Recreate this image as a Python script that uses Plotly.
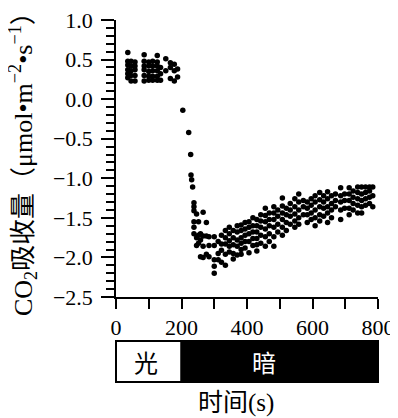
import plotly.graph_objects as go

# ---- data ----
light_times = [36, 46, 58, 86, 100, 112, 126, 136, 152, 166, 178, 188]
light_values = [
    [0.59, 0.48, 0.43, 0.37, 0.32, 0.27],
    [0.48, 0.42, 0.36, 0.30, 0.23],
    [0.47, 0.42, 0.37, 0.30, 0.23],
    [0.56, 0.48, 0.42, 0.37, 0.30, 0.23],
    [0.47, 0.42, 0.35, 0.29, 0.24],
    [0.48, 0.42, 0.36, 0.29, 0.24],
    [0.55, 0.47, 0.42, 0.36, 0.29, 0.24],
    [0.40, 0.32, 0.24],
    [0.51, 0.36],
    [0.46, 0.40, 0.26],
    [0.44, 0.36, 0.23],
    [0.38, 0.28],
]

drop_times = [204, 222, 228, 229, 231, 234]
drop_values = [-0.14, -0.42, -0.70, -0.96, -1.02, -1.11]

dark_times = [238, 246, 252, 258, 266, 276, 284, 300, 312, 322, 334, 346, 358, 370,
              382, 394, 406, 418, 430, 442, 456, 468, 482, 494, 508, 520, 532, 546,
              558, 572, 584, 596, 608, 622, 634, 646, 658, 670, 686, 698, 712, 724,
              738, 750, 762, 774, 784]
dark_values = [
    [-1.31, -1.36, -1.41, -1.55, -1.62, -1.70],
    [-1.45, -1.75, -1.85],
    [-1.55, -1.72, -1.82],
    [-1.70, -1.78, -1.99],
    [-1.43, -1.73, -1.86, -2.00],
    [-1.56, -1.73, -1.96],
    [-1.74, -1.85, -1.99],
    [-1.74, -1.85, -2.03, -2.11, -2.20],
    [-1.80, -1.95, -2.03],
    [-1.72, -1.83, -1.91, -2.06],
    [-1.66, -1.75, -1.83, -1.96, -2.10],
    [-1.62, -1.70, -1.79, -1.86, -1.93],
    [-1.66, -1.75, -1.84, -1.95, -2.02],
    [-1.60, -1.68, -1.78, -1.86, -1.97],
    [-1.59, -1.66, -1.75, -1.82, -1.90, -1.96],
    [-1.56, -1.64, -1.72, -1.80, -1.88],
    [-1.55, -1.62, -1.70, -1.80, -1.94],
    [-1.50, -1.60, -1.68, -1.76, -1.85],
    [-1.52, -1.60, -1.68, -1.76, -1.84, -1.92],
    [-1.46, -1.54, -1.62, -1.72, -1.82],
    [-1.38, -1.47, -1.55, -1.64, -1.74, -1.86],
    [-1.44, -1.52, -1.60, -1.70, -1.80],
    [-1.36, -1.44, -1.52, -1.62, -1.74, -1.86],
    [-1.40, -1.48, -1.58, -1.68],
    [-1.25, -1.35, -1.44, -1.52, -1.62, -1.72],
    [-1.38, -1.46, -1.56, -1.66],
    [-1.32, -1.40, -1.48, -1.58],
    [-1.26, -1.36, -1.45, -1.54, -1.62],
    [-1.20, -1.30, -1.40, -1.50, -1.58],
    [-1.28, -1.36, -1.46],
    [-1.30, -1.38, -1.46, -1.56],
    [-1.26, -1.34, -1.44, -1.52],
    [-1.22, -1.30, -1.40, -1.50, -1.60],
    [-1.18, -1.27, -1.36, -1.46, -1.54],
    [-1.22, -1.30, -1.38, -1.48],
    [-1.17, -1.26, -1.36, -1.44, -1.56],
    [-1.22, -1.32, -1.40, -1.50],
    [-1.20, -1.28, -1.36],
    [-1.12, -1.22, -1.30, -1.40, -1.52],
    [-1.20, -1.28, -1.38],
    [-1.12, -1.20, -1.28, -1.38, -1.46],
    [-1.16, -1.24, -1.32, -1.40],
    [-1.11, -1.18, -1.26, -1.34, -1.44],
    [-1.11, -1.20, -1.28, -1.36, -1.44],
    [-1.11, -1.18, -1.26, -1.34],
    [-1.11, -1.16, -1.24, -1.32],
    [-1.11, -1.22, -1.36],
]

x_tickvals = [0, 100, 200, 300, 400, 500, 600, 700, 800]
x_ticktext = ["0", "", "200", "", "400", "", "600", "", "800"]
phase_labels = ["光", "暗"]
phase_bounds = [0, 200, 800]

# ---- flatten ----
xs, ys = [], []
for t, vals in zip(light_times, light_values):
    for v in vals:
        xs.append(t); ys.append(v)
for t, v in zip(drop_times, drop_values):
    xs.append(t); ys.append(v)
for t, vals in zip(dark_times, dark_values):
    for v in vals:
        xs.append(t); ys.append(v)

SERIF = "Liberation Serif"
MIXED = "Liberation Serif, Noto Sans CJK SC"
CJK = "Noto Sans CJK SC"

fig = go.Figure(go.Scatter(
    x=xs, y=ys, mode="markers",
    marker=dict(color="black", size=5.5, line=dict(width=0)),
    hoverinfo="skip", showlegend=False,
))

X0, X1 = 0, 800
def px(v):
    return (v - X0) / (X1 - X0)

bar_y0, bar_y1 = -0.307, -0.159
shapes = [
    dict(type="rect", xref="paper", yref="paper", x0=px(phase_bounds[0]), x1=px(phase_bounds[1]),
         y0=bar_y0, y1=bar_y1, fillcolor="white", line=dict(color="black", width=2)),
    dict(type="rect", xref="paper", yref="paper", x0=px(phase_bounds[1]), x1=px(phase_bounds[2]),
         y0=bar_y0, y1=bar_y1, fillcolor="black", line=dict(color="black", width=2)),
]

annotations = [
    dict(text=phase_labels[0], xref="paper", yref="paper", x=px(92), y=(bar_y0 + bar_y1) / 2,
         showarrow=False, xanchor="center", yanchor="middle",
         font=dict(family=CJK, size=24, color="black")),
    dict(text=phase_labels[1], xref="paper", yref="paper", x=px(453), y=(bar_y0 + bar_y1) / 2,
         showarrow=False, xanchor="center", yanchor="middle",
         font=dict(family=CJK, size=24, color="white")),
    dict(text="时间(s)", xref="paper", yref="paper", x=0.458, y=-0.381,
         showarrow=False, xanchor="center", yanchor="middle",
         font=dict(family=MIXED, size=25, color="black")),
    dict(text="CO<sub>2</sub>吸收量（μmol•m<sup>−2</sup>•s<sup>−1</sup>）",
         xref="paper", yref="paper", x=-0.355, y=0.505, textangle=-90,
         showarrow=False, xanchor="center", yanchor="middle",
         font=dict(family=MIXED, size=26, color="black")),
]

# page body has an 8px margin, so the figure is 8px smaller and margins shifted
fig.update_layout(
    width=390, height=410,
    margin=dict(l=108, r=20, t=12, b=121, autoexpand=False),
    paper_bgcolor="white", plot_bgcolor="white",
    shapes=shapes, annotations=annotations,
    xaxis=dict(range=[X0, X1], showline=True, linecolor="black", linewidth=1.5,
               ticks="outside", ticklen=10, tickwidth=1.5, tickcolor="black",
               tickvals=x_tickvals, ticktext=x_ticktext, ticklabeloverflow="allow",
               tickfont=dict(family=SERIF, size=22, color="black"),
               showgrid=False, zeroline=False),
    yaxis=dict(range=[-2.5, 1.0], showline=True, linecolor="black", linewidth=1.5,
               ticks="outside", ticklen=13, tickwidth=1.5, tickcolor="black",
               tick0=0, dtick=0.5, tickformat=".1f", ticklabeloverflow="allow",
               ticklabelstandoff=4,
               tickfont=dict(family=SERIF, size=22, color="black"),
               minor=dict(dtick=0.1, ticks="outside", ticklen=8, tickwidth=1.5,
                          tickcolor="black", showgrid=False),
               showgrid=False, zeroline=False),
)

fig.write_html("out.html")
